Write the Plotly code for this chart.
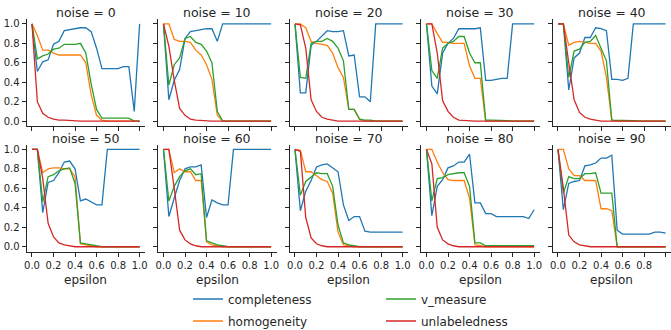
import plotly.graph_objects as go

epsilon = [0.0, 0.05, 0.1, 0.15, 0.2, 0.25, 0.3, 0.35, 0.4, 0.45, 0.5,
           0.55, 0.6, 0.65, 0.7, 0.75, 0.8, 0.85, 0.9, 0.95, 1.0]
noise_levels = [0, 10, 20, 30, 40, 50, 60, 70, 80, 90]
x_ticks = [0.0, 0.2, 0.4, 0.6, 0.8, 1.0]
y_ticks = [0.0, 0.2, 0.4, 0.6, 0.8, 1.0]

completeness = [
    [1.0, 0.51, 0.61, 0.63, 0.79, 0.82, 0.93, 0.94, 0.95, 0.96, 0.96, 0.92, 0.75, 0.54, 0.54, 0.54, 0.54, 0.56, 0.56, 0.10, 1.0],
    [1.0, 0.22, 0.42, 0.53, 0.85, 0.92, 0.93, 0.94, 0.95, 0.95, 0.82, 1.0, 1.0, 1.0, 1.0, 1.0, 1.0, 1.0, 1.0, 1.0, 1.0],
    [1.0, 0.29, 0.29, 0.78, 0.82, 0.87, 0.93, 0.92, 0.92, 0.93, 0.67, 0.68, 0.25, 0.25, 0.20, 1.0, 1.0, 1.0, 1.0, 1.0, 1.0],
    [1.0, 0.36, 0.28, 0.70, 0.80, 0.85, 0.95, 0.95, 0.95, 0.95, 0.96, 0.42, 0.42, 0.43, 0.44, 0.44, 1.0, 1.0, 1.0, 1.0, 1.0],
    [1.0, 1.0, 0.32, 0.65, 0.70, 0.86, 0.86, 0.96, 0.95, 0.93, 0.43, 0.43, 0.42, 0.44, 1.0, 1.0, 1.0, 1.0, 1.0, 1.0, 1.0],
    [1.0, 1.0, 0.35, 0.66, 0.68, 0.76, 0.87, 0.88, 0.80, 0.47, 0.49, 0.46, 0.43, 0.43, 1.0, 1.0, 1.0, 1.0, 1.0, 1.0, 1.0],
    [1.0, 0.31, 0.50, 0.68, 0.80, 0.82, 0.82, 0.84, 0.30, 0.48, 0.45, 0.43, 0.43, 1.0, 1.0, 1.0, 1.0, 1.0, 1.0, 1.0, 1.0],
    [1.0, 0.37, 0.57, 0.68, 0.82, 0.84, 0.85, 0.81, 0.77, 0.43, 0.27, 0.31, 0.31, 0.16, 0.15, 0.15, 0.15, 0.15, 0.15, 0.15, 0.15],
    [1.0, 0.32, 0.62, 0.69, 0.81, 0.83, 0.87, 0.87, 0.95, 0.45, 0.45, 0.34, 0.34, 0.31, 0.31, 0.31, 0.31, 0.31, 0.31, 0.29, 0.38],
    [1.0, 0.38, 0.65, 0.67, 0.68, 0.83, 0.84, 0.86, 0.91, 0.91, 0.94, 0.17, 0.13, 0.13, 0.13, 0.13, 0.13, 0.13, 0.15, 0.15, 0.14],
]

homogeneity = [
    [1.0, 0.88, 0.73, 0.73, 0.70, 0.68, 0.68, 0.68, 0.68, 0.68, 0.60, 0.27, 0.06, 0.01, 0.0, 0.0, 0.0, 0.0, 0.0, 0.0, 0.0],
    [1.0, 1.0, 0.84, 0.82, 0.82, 0.81, 0.73, 0.68, 0.58, 0.43, 0.06, 0.0, 0.0, 0.0, 0.0, 0.0, 0.0, 0.0, 0.0, 0.0, 0.0],
    [1.0, 1.0, 0.96, 0.82, 0.80, 0.79, 0.78, 0.70, 0.55, 0.45, 0.12, 0.12, 0.02, 0.0, 0.0, 0.0, 0.0, 0.0, 0.0, 0.0, 0.0],
    [1.0, 1.0, 0.90, 0.81, 0.81, 0.80, 0.80, 0.80, 0.57, 0.44, 0.44, 0.0, 0.0, 0.0, 0.0, 0.0, 0.0, 0.0, 0.0, 0.0, 0.0],
    [1.0, 1.0, 0.78, 0.81, 0.82, 0.81, 0.80, 0.80, 0.72, 0.45, 0.01, 0.0, 0.0, 0.0, 0.0, 0.0, 0.0, 0.0, 0.0, 0.0, 0.0],
    [1.0, 1.0, 0.76, 0.80, 0.81, 0.81, 0.80, 0.80, 0.72, 0.03, 0.02, 0.01, 0.0, 0.0, 0.0, 0.0, 0.0, 0.0, 0.0, 0.0, 0.0],
    [1.0, 1.0, 0.76, 0.80, 0.77, 0.77, 0.68, 0.68, 0.05, 0.02, 0.01, 0.0, 0.0, 0.0, 0.0, 0.0, 0.0, 0.0, 0.0, 0.0, 0.0],
    [1.0, 0.99, 0.77, 0.77, 0.73, 0.69, 0.67, 0.55, 0.15, 0.02, 0.01, 0.0, 0.0, 0.0, 0.0, 0.0, 0.0, 0.0, 0.0, 0.0, 0.0],
    [1.0, 1.0, 0.87, 0.76, 0.69, 0.68, 0.68, 0.68, 0.50, 0.02, 0.01, 0.0, 0.0, 0.0, 0.0, 0.0, 0.0, 0.0, 0.0, 0.0, 0.0],
    [1.0, 1.0, 0.80, 0.73, 0.73, 0.68, 0.68, 0.68, 0.39, 0.39, 0.37, 0.0, 0.0, 0.0, 0.0, 0.0, 0.0, 0.0, 0.0, 0.0, 0.0],
]

v_measure = [
    [1.0, 0.64, 0.67, 0.69, 0.74, 0.75, 0.79, 0.79, 0.79, 0.80, 0.70, 0.38, 0.12, 0.03, 0.03, 0.03, 0.03, 0.03, 0.03, 0.0, 0.0],
    [1.0, 0.37, 0.58, 0.65, 0.85, 0.87, 0.81, 0.79, 0.72, 0.60, 0.10, 0.0, 0.0, 0.0, 0.0, 0.0, 0.0, 0.0, 0.0, 0.0, 0.0],
    [1.0, 0.45, 0.44, 0.80, 0.82, 0.82, 0.85, 0.82, 0.75, 0.62, 0.12, 0.12, 0.02, 0.01, 0.01, 0.0, 0.0, 0.0, 0.0, 0.0, 0.0],
    [1.0, 0.52, 0.44, 0.75, 0.80, 0.82, 0.87, 0.87, 0.70, 0.60, 0.60, 0.01, 0.01, 0.01, 0.01, 0.005, 0.0, 0.0, 0.0, 0.0, 0.0],
    [1.0, 1.0, 0.45, 0.72, 0.74, 0.81, 0.82, 0.88, 0.75, 0.62, 0.01, 0.01, 0.01, 0.01, 0.005, 0.0, 0.0, 0.0, 0.0, 0.0, 0.0],
    [1.0, 1.0, 0.46, 0.72, 0.74, 0.78, 0.80, 0.81, 0.65, 0.04, 0.03, 0.02, 0.01, 0.0, 0.0, 0.0, 0.0, 0.0, 0.0, 0.0, 0.0],
    [1.0, 0.47, 0.62, 0.72, 0.78, 0.80, 0.74, 0.75, 0.06, 0.04, 0.02, 0.01, 0.0, 0.0, 0.0, 0.0, 0.0, 0.0, 0.0, 0.0, 0.0],
    [1.0, 0.53, 0.67, 0.72, 0.76, 0.75, 0.75, 0.62, 0.22, 0.04, 0.02, 0.01, 0.0, 0.0, 0.0, 0.0, 0.0, 0.0, 0.0, 0.0, 0.0],
    [1.0, 0.47, 0.70, 0.71, 0.74, 0.75, 0.76, 0.76, 0.62, 0.04, 0.04, 0.01, 0.01, 0.01, 0.01, 0.01, 0.01, 0.01, 0.01, 0.01, 0.01],
    [1.0, 0.55, 0.72, 0.70, 0.70, 0.75, 0.75, 0.76, 0.55, 0.55, 0.55, 0.0, 0.0, 0.0, 0.0, 0.0, 0.0, 0.0, 0.0, 0.0, 0.0],
]

unlabeledness = [
    [1.0, 0.20, 0.08, 0.04, 0.02, 0.01, 0.01, 0.005, 0.0, 0.0, 0.0, 0.0, 0.0, 0.0, 0.0, 0.0, 0.0, 0.0, 0.0, 0.0, 0.0],
    [1.0, 0.77, 0.42, 0.13, 0.06, 0.02, 0.01, 0.005, 0.0, 0.0, 0.0, 0.0, 0.0, 0.0, 0.0, 0.0, 0.0, 0.0, 0.0, 0.0, 0.0],
    [1.0, 0.99, 0.75, 0.22, 0.10, 0.04, 0.02, 0.01, 0.0, 0.0, 0.0, 0.0, 0.0, 0.0, 0.0, 0.0, 0.0, 0.0, 0.0, 0.0, 0.0],
    [1.0, 1.0, 0.70, 0.21, 0.10, 0.04, 0.01, 0.005, 0.0, 0.0, 0.0, 0.0, 0.0, 0.0, 0.0, 0.0, 0.0, 0.0, 0.0, 0.0, 0.0],
    [1.0, 1.0, 0.60, 0.22, 0.09, 0.04, 0.02, 0.01, 0.0, 0.0, 0.0, 0.0, 0.0, 0.0, 0.0, 0.0, 0.0, 0.0, 0.0, 0.0, 0.0],
    [1.0, 1.0, 0.70, 0.24, 0.10, 0.04, 0.02, 0.01, 0.0, 0.0, 0.0, 0.0, 0.0, 0.0, 0.0, 0.0, 0.0, 0.0, 0.0, 0.0, 0.0],
    [1.0, 1.0, 0.60, 0.17, 0.07, 0.03, 0.01, 0.0, 0.0, 0.0, 0.0, 0.0, 0.0, 0.0, 0.0, 0.0, 0.0, 0.0, 0.0, 0.0, 0.0],
    [1.0, 0.98, 0.30, 0.09, 0.03, 0.01, 0.0, 0.0, 0.0, 0.0, 0.0, 0.0, 0.0, 0.0, 0.0, 0.0, 0.0, 0.0, 0.0, 0.0, 0.0],
    [1.0, 0.85, 0.20, 0.07, 0.03, 0.01, 0.0, 0.0, 0.0, 0.0, 0.0, 0.0, 0.0, 0.0, 0.0, 0.0, 0.0, 0.0, 0.0, 0.0, 0.0],
    [1.0, 0.60, 0.12, 0.05, 0.02, 0.01, 0.0, 0.0, 0.0, 0.0, 0.0, 0.0, 0.0, 0.0, 0.0, 0.0, 0.0, 0.0, 0.0, 0.0, 0.0],
]

metric_names = ["completeness", "homogeneity", "v_measure", "unlabeledness"]
metric_data = [completeness, homogeneity, v_measure, unlabeledness]
colors = ["#1f77b4", "#ff7f0e", "#2ca02c", "#d62728"]
legend_ids = ["legend", "legend2", "legend3", "legend4"]

W, H = 671, 330
FONT = "DejaVu Sans"
INK = "#262626"

col_left = [26.6 + 131.5 * i for i in range(5)]
col_w = 118.4
row_top = [19.0, 144.5]
row_h = [107.0, 107.1]

fig = go.Figure()
layout = {}
annotations = []

for p, noise in enumerate(noise_levels):
    r, c = divmod(p, 5)
    k = p + 1
    xa = "xaxis" if k == 1 else f"xaxis{k}"
    ya = "yaxis" if k == 1 else f"yaxis{k}"
    xref = "x" if k == 1 else f"x{k}"
    yref = "y" if k == 1 else f"y{k}"
    x0 = col_left[c] / W
    x1 = min((col_left[c] + col_w) / W, 1.0)
    y1 = 1 - row_top[r] / H
    y0 = 1 - (row_top[r] + row_h[r]) / H
    common = dict(showline=True, linecolor=INK, linewidth=1, ticks="outside",
                  ticklen=4, tickwidth=1, tickcolor=INK, showgrid=False,
                  zeroline=False, mirror=False, automargin=False,
                  tickfont=dict(family=FONT, size=10, color=INK))
    layout[xa] = dict(domain=[x0, x1], range=[-0.05, 1.05], anchor=yref,
                      tickvals=x_ticks, ticktext=[f"{v:.1f}" for v in x_ticks],
                      showticklabels=(r == 1), **common)
    layout[ya] = dict(domain=[y0, y1], range=[-0.05, 1.05], anchor=xref,
                      tickvals=y_ticks, ticktext=[f"{v:.1f}" for v in y_ticks],
                      showticklabels=(c == 0), **common)
    for m in range(4):
        fig.add_trace(go.Scatter(
            x=epsilon, y=metric_data[m][p], mode="lines",
            line=dict(color=colors[m], width=1.3),
            name=metric_names[m], xaxis=xref, yaxis=yref,
            showlegend=(p == 0), legend=legend_ids[m]))
    annotations.append(dict(
        text=f"noise = {noise}", xref="paper", yref="paper",
        x=(col_left[c] + col_w / 2) / W,
        y=1 - (12 if r == 0 else 138) / H,
        xanchor="center", yanchor="middle", showarrow=False,
        font=dict(family=FONT, size=12.5, color=INK)))
    if r == 1:
        annotations.append(dict(
            text="epsilon", xref="paper", yref="paper",
            x=(col_left[c] + col_w / 2) / W, y=1 - 280 / H,
            xanchor="center", yanchor="middle", showarrow=False,
            font=dict(family=FONT, size=12, color=INK)))

leg_pos = [(188, 299), (188, 321), (381, 299), (381, 321)]
for lid, (lx, ly) in zip(legend_ids, leg_pos):
    layout[lid] = dict(x=lx / W, y=1 - ly / H, xanchor="left", yanchor="middle",
                       bgcolor="rgba(0,0,0,0)", borderwidth=0,
                       font=dict(family=FONT, size=12, color=INK))

fig.update_layout(
    width=W, height=H,
    margin=dict(l=0, r=0, t=0, b=0, pad=0, autoexpand=False),
    plot_bgcolor="white", paper_bgcolor="white",
    font=dict(family=FONT, size=12, color=INK),
    hovermode=False,
    annotations=annotations, **layout)

fig.write_html("out.html",
               config={"displayModeBar": False, "staticPlot": True},
               post_script="document.body.style.margin='0px';"
                           "document.body.style.overflow='hidden';")
